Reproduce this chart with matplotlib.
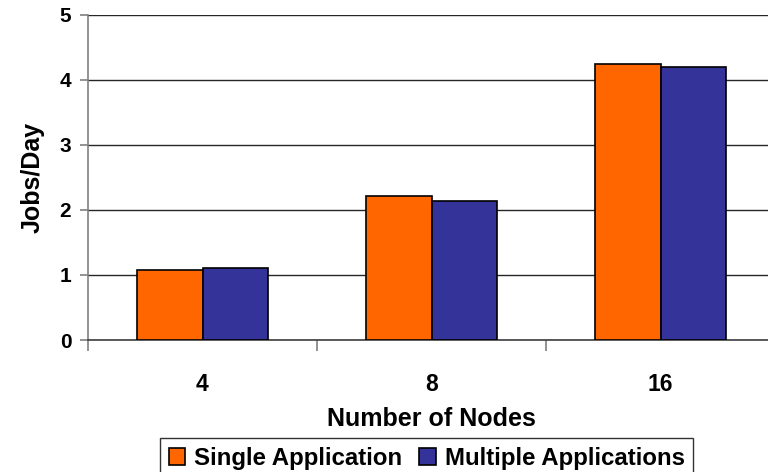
import numpy as np
import matplotlib
matplotlib.use('Agg')
import matplotlib.pyplot as plt

plt.rcParams['font.family'] = ['Liberation Sans', 'DejaVu Sans']
plt.rcParams['font.weight'] = 'bold'

nodes = ['4', '8', '16']
single_app = [1.07, 2.21, 4.24]
multiple_apps = [1.10, 2.14, 4.19]
series_names = ['Single Application', 'Multiple Applications']

fig = plt.figure(figsize=(7.68, 4.72), dpi=100, facecolor='white')
ax = fig.add_axes([88 / 768, 132 / 472, 687 / 768, 325.3 / 472])

x = np.arange(len(nodes))
w = 0.288
ax.bar(x - w / 2, single_app, w, color='#FF6600', edgecolor='black', linewidth=1.2,
       label=series_names[0], zorder=3)
ax.bar(x + w / 2, multiple_apps, w, color='#333399', edgecolor='black', linewidth=1.2,
       label=series_names[1], zorder=3)

ax.set_xlim(-0.5, 2.5)
ax.set_ylim(0, 5)
ax.set_yticks(range(0, 6))
ax.yaxis.grid(True, color='#262626', linewidth=1.0, zorder=0)

# category separators as major ticks, labels on minor ticks at the centers
ax.set_xticks([-0.5, 0.5, 1.5, 2.5])
ax.set_xticklabels([])
ax.set_xticks(x, minor=True)
ax.set_xticklabels(nodes, minor=True, fontsize=16.5, fontweight='bold')
ax.tick_params(axis='x', which='major', length=8, width=1.2, color='#808080', direction='out')
ax.tick_params(axis='x', which='minor', length=0, pad=23.5)
ax.tick_params(axis='y', length=6, width=1.2, color='#808080', direction='out',
               labelsize=15, pad=6)
for lab in ax.get_yticklabels():
    lab.set_fontweight('bold')

for side in ['top', 'right']:
    ax.spines[side].set_visible(False)
ax.spines['left'].set_color('#808080')
ax.spines['left'].set_linewidth(1.2)
ax.spines['bottom'].set_color('#404040')
ax.spines['bottom'].set_linewidth(1.2)

ax.set_ylabel('Jobs/Day', fontsize=18, fontweight='bold', labelpad=11)
ax.set_xlabel('Number of Nodes', fontsize=18, fontweight='bold', labelpad=8)

leg = fig.legend(loc='upper left', bbox_to_anchor=(160 / 768, 1 - 438 / 472), ncol=2,
                 fontsize=17.3, frameon=True, fancybox=False, shadow=False,
                 borderaxespad=0, handlelength=0.7, handleheight=0.7,
                 handletextpad=0.36, columnspacing=0.7, borderpad=0.36)
leg.get_frame().set_edgecolor('black')
leg.get_frame().set_linewidth(1.0)
for t in leg.get_texts():
    t.set_fontweight('bold')

fig.savefig('out.png', dpi=100, facecolor='white')
